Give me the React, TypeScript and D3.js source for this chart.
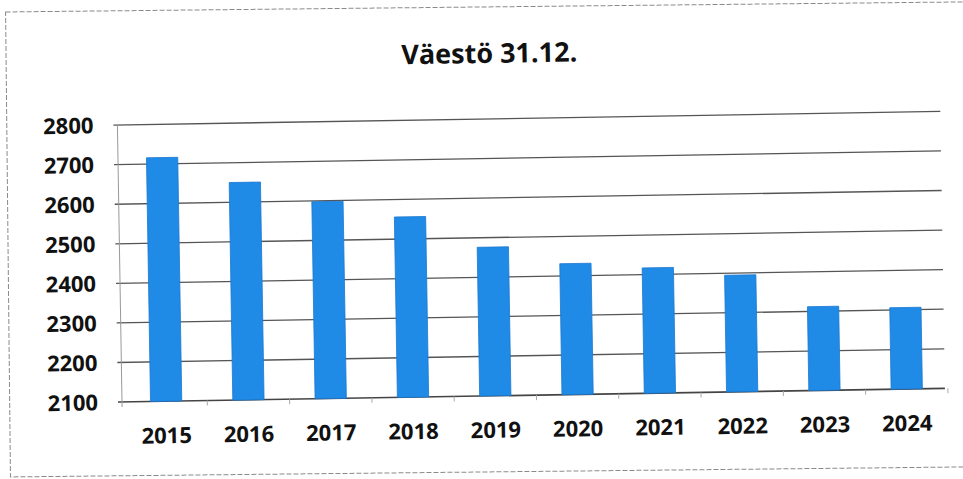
import React from "react";
import * as d3 from "d3";

const years = ["2015", "2016", "2017", "2018", "2019", "2020", "2021", "2022", "2023", "2024"];
const population = [2716, 2650, 2598, 2556, 2476, 2431, 2417, 2395, 2312, 2306];
const yTicks = [2100, 2200, 2300, 2400, 2500, 2600, 2700, 2800];
const title = "Väestö 31.12.";

const W = 963;
const H = 479;
const X0 = 122;
const X1 = 945;
const Y0 = 402;
const YTOP = 125;
const ANGLE = -0.95;
const FONT = "'Open Sans', 'Noto Sans', sans-serif";

export default function App() {
  const x = d3
    .scaleBand<string>()
    .domain(years)
    .range([X0 + 3, X1 + 3])
    .paddingInner(0.62)
    .paddingOuter(0.31);
  const y = d3.scaleLinear().domain([2100, 2800]).range([Y0, YTOP]);
  const step = x.step();

  return (
    <svg
      width={W}
      height={H}
      style={{ position: "absolute", left: 0, top: 0, background: "#fff" }}
    >
      <g transform={`rotate(-0.6, 480, 240)`}>
        <rect
          x={8}
          y={7}
          width={1000}
          height={465}
          fill="none"
          stroke="#8a8a8a"
          strokeWidth={1}
          strokeDasharray="5 2"
        />
      </g>
      <g transform={`rotate(${ANGLE}, ${X0}, ${Y0})`}>
        <text
          x={495}
          y={69}
          textAnchor="middle"
          fontFamily={FONT}
          fontWeight={700}
          fontSize={27}
          fill="#111"
        >
          {title}
        </text>
        {yTicks.map((t) => (
          <g key={t}>
            <line
              x1={X0 - 4}
              x2={X1}
              y1={y(t)}
              y2={y(t)}
              stroke={t === 2100 ? "#444" : "#555"}
              strokeWidth={t === 2100 ? 1.6 : 1.3}
            />
            <text
              x={98}
              y={y(t)}
              dy="0.36em"
              textAnchor="end"
              fontFamily={FONT}
              fontWeight={700}
              fontSize={22}
              fill="#111"
            >
              {t}
            </text>
          </g>
        ))}
        <line x1={X0} x2={X0} y1={YTOP} y2={Y0 + 5} stroke="#999" strokeWidth={1} />
        {years.map((yr, i) => (
          <line
            key={"tk" + yr}
            x1={X0 + 3 + step * (i + 1)}
            x2={X0 + 3 + step * (i + 1)}
            y1={Y0}
            y2={Y0 + 5}
            stroke="#aaa"
            strokeWidth={1}
          />
        ))}
        {years.map((yr, i) => (
          <rect
            key={yr}
            x={x(yr)}
            y={y(population[i])}
            width={x.bandwidth()}
            height={Y0 - y(population[i])}
            fill="#1f8be6"
            stroke="#1a78d0"
            strokeWidth={0.8}
          />
        ))}
        {years.map((yr) => (
          <text
            key={"l" + yr}
            x={(x(yr) as number) + x.bandwidth() / 2}
            y={Y0 + 42}
            textAnchor="middle"
            fontFamily={FONT}
            fontWeight={700}
            fontSize={22}
            fill="#111"
          >
            {yr}
          </text>
        ))}
      </g>
    </svg>
  );
}
